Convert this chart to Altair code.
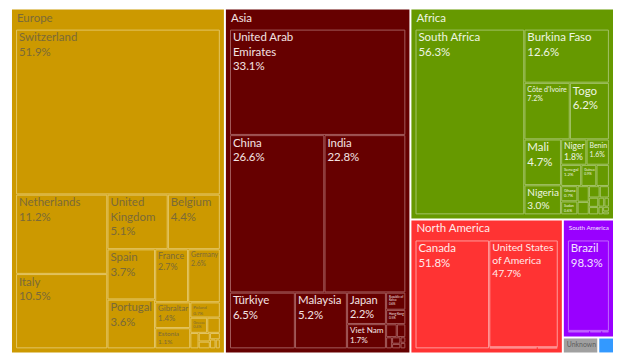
import altair as alt
import pandas as pd

# ---------------- data ----------------
continents = ["Europe", "Asia", "Africa", "North America", "South America", "Unknown", "Oceania"]
continent_share = [35.4, 30.7, 20.6, 9.8, 2.9, 0.27, 0.12]
fill_colors = ["#CC9900", "#660000", "#669900", "#FF3333", "#9900FF", "#A0A0A0", "#3399FF"]
line_colors = ["#E3C563", "#A35A5A", "#A3C266", "#FF9C9C", "#C266FF", "#A0A0A0", "#3399FF"]
text_colors = ["#7A6A38", "#F3E3E3", "#EEF5E2", "#FFEAEA", "#F2E2FF", "#5E5E5E", "#FFFFFF"]

europe_names = ["Switzerland", "Netherlands", "Italy", "United Kingdom", "Belgium", "Spain",
                "Portugal", "France", "Germany", "Gibraltar", "Estonia", "Poland", "Greece",
                "Czechia", "Austria", "Sweden", "Denmark", "Ireland", "Lithuania", "Finland"]
europe_pct = [51.9, 11.2, 10.5, 5.1, 4.4, 3.7, 3.6, 2.7, 2.6, 1.4, 1.1, 0.7, 0.4,
              0.3, 0.2, 0.15, 0.12, 0.1, 0.08, 0.06]

asia_names = ["United Arab Emirates", "China", "India", "Türkiye", "Malaysia", "Japan",
              "Viet Nam", "Republic of Korea", "Hong Kong", "Singapore", "Thailand",
              "Saudi Arabia", "Israel", "Kazakhstan", "Philippines", "Indonesia"]
asia_pct = [33.1, 26.6, 22.8, 6.5, 5.2, 2.2, 1.7, 0.6, 0.5, 0.25, 0.2, 0.12, 0.1, 0.07, 0.05, 0.05]

africa_names = ["South Africa", "Burkina Faso", "Côte d'Ivoire", "Togo", "Mali", "Nigeria",
                "Niger", "Benin", "Senegal", "Guinea", "Liberia", "Ghana", "Sudan", "Tanzania",
                "Egypt", "Zimbabwe", "Kenya", "Cameroon", "Morocco", "Uganda", "Ethiopia",
                "Rwanda", "Zambia", "Madagascar"]
africa_pct = [56.3, 12.6, 7.2, 6.2, 4.7, 3.0, 1.8, 1.6, 1.2, 0.9, 0.75, 0.7, 0.6, 0.5,
              0.4, 0.35, 0.3, 0.25, 0.2, 0.15, 0.12, 0.1, 0.08, 0.05]

north_america_names = ["Canada", "United States of America", "Mexico", "Panama"]
north_america_pct = [51.8, 47.7, 0.35, 0.15]

south_america_names = ["Brazil", "Peru", "Colombia", "Chile"]
south_america_pct = [98.3, 0.9, 0.5, 0.3]

children = {
    "Europe": (europe_names, europe_pct),
    "Asia": (asia_names, asia_pct),
    "Africa": (africa_names, africa_pct),
    "North America": (north_america_names, north_america_pct),
    "South America": (south_america_names, south_america_pct),
}

# ---------------- squarified layout ----------------
W, H = 605, 346
PAD_L, PAD_R, PAD_T, PAD_B = 4, 4, 20, 4
FONT = "Lato"


def text_em(s):
    """Approximate width of a string in em for Lato."""
    w = 0.0
    for c in s:
        if c in "il.,'|!":
            w += 0.25
        elif c == " ":
            w += 0.26
        elif c in "frtjI":
            w += 0.36
        elif c in "mw":
            w += 0.8
        elif c in "MW":
            w += 0.9
        elif c == "%":
            w += 0.8
        elif c.isdigit():
            w += 0.58
        elif c.isupper():
            w += 0.68
        else:
            w += 0.53
    return w


def _layout(sizes, x, y, dx, dy):
    covered = sum(sizes)
    rects = []
    if dx >= dy:
        width = covered / dy if dy > 0 else 0
        for s in sizes:
            h = s / width if width > 0 else 0
            rects.append((x, y, width, h))
            y += h
    else:
        height = covered / dx if dx > 0 else 0
        for s in sizes:
            w = s / height if height > 0 else 0
            rects.append((x, y, w, height))
            x += w
    return rects


def _leftover(sizes, x, y, dx, dy):
    covered = sum(sizes)
    if dx >= dy:
        width = covered / dy if dy > 0 else 0
        return x + width, y, dx - width, dy
    height = covered / dx if dx > 0 else 0
    return x, y + height, dx, dy - height


def _worst(sizes, x, y, dx, dy):
    r = 0
    for (_, _, w, h) in _layout(sizes, x, y, dx, dy):
        if w <= 0 or h <= 0:
            return float("inf")
        r = max(r, w / h, h / w)
    return r


def squarify(sizes, x, y, dx, dy):
    sizes = list(sizes)
    if not sizes:
        return []
    if len(sizes) == 1:
        return _layout(sizes, x, y, dx, dy)
    i = 1
    while i < len(sizes) and _worst(sizes[:i], x, y, dx, dy) >= _worst(sizes[:i + 1], x, y, dx, dy):
        i += 1
    cur, rest = sizes[:i], sizes[i:]
    lx, ly, ldx, ldy = _leftover(cur, x, y, dx, dy)
    return _layout(cur, x, y, dx, dy) + squarify(rest, lx, ly, ldx, ldy)


def norm(vals, dx, dy):
    t = sum(vals)
    return [v * dx * dy / t for v in vals]


def wrap(name, maxc=13):
    words = name.split(" ")
    lines, cur = [], ""
    for w in words:
        cand = (cur + " " + w).strip()
        if len(cand) <= maxc or not cur:
            cur = cand
        else:
            lines.append(cur)
            cur = w
    lines.append(cur)
    return lines


rect_rows = []
text_rows = []

top = squarify(norm(continent_share, W, H), 0, 0, W, H)
for ci, (cx, cy, cw, ch) in enumerate(top):
    cname = continents[ci]
    x0, y0, x1, y1 = cx + 1, cy + 1, cx + cw - 1, cy + ch - 1
    rect_rows.append(dict(x=x0, x2=x1, y=y0, y2=y1, fill=fill_colors[ci],
                          stroke=fill_colors[ci], kind="continent"))
    tcol = text_colors[ci]
    if cname in children:
        fs = min(11.5, (x1 - x0 - 8) / text_em(cname))
        text_rows.append(dict(x=x0 + 5, y=y0 + 3 + (11.5 - fs) * 0.4, text=cname, fs=fs, color=tcol))
        names, pct = children[cname]
        ix0, iy0 = x0 + PAD_L, y0 + PAD_T
        iw, ih = (x1 - PAD_R) - ix0, (y1 - PAD_B) - iy0
        kids = squarify(norm(pct, iw, ih), ix0, iy0, iw, ih)
        for ki, (kx, ky, kw, kh) in enumerate(kids):
            rect_rows.append(dict(x=kx + 0.6, x2=kx + kw - 0.6, y=ky + 0.6, y2=ky + kh - 0.6,
                                  fill=fill_colors[ci], stroke=line_colors[ci], kind="child"))
            lines = wrap(names[ki]) + [f"{pct[ki]:.1f}%"]
            longest = max(text_em(s) for s in lines)
            fs = min(11.5, (kw - 5) / longest, (kh - 4) / (len(lines) * 1.25))
            if fs >= 2.5:
                for li, s in enumerate(lines):
                    text_rows.append(dict(x=kx + 3, y=ky + 3 + li * fs * 1.25, text=s, fs=fs, color=tcol))
    else:
        fs = min(11.5, (x1 - x0 - 5) / text_em(cname), (y1 - y0 - 4) / 1.25)
        if fs >= 3:
            text_rows.append(dict(x=x0 + 3, y=y0 + 3, text=cname, fs=fs, color=tcol))

rects = pd.DataFrame(rect_rows)
texts = pd.DataFrame(text_rows)

xs = alt.Scale(domain=[0, W], nice=False, zero=False)
ys = alt.Scale(domain=[0, H], nice=False, zero=False, reverse=True)

cont = alt.Chart(rects).transform_filter(alt.datum.kind == "continent").mark_rect(strokeWidth=0).encode(
    x=alt.X("x:Q", scale=xs, axis=None),
    x2="x2:Q",
    y=alt.Y("y:Q", scale=ys, axis=None),
    y2="y2:Q",
    fill=alt.Color("fill:N", scale=None),
)

kid = alt.Chart(rects).transform_filter(alt.datum.kind == "child").mark_rect(strokeWidth=1).encode(
    x=alt.X("x:Q", scale=xs, axis=None),
    x2="x2:Q",
    y=alt.Y("y:Q", scale=ys, axis=None),
    y2="y2:Q",
    fill=alt.Color("fill:N", scale=None),
    stroke=alt.Stroke("stroke:N", scale=None),
)

labels = alt.Chart(texts).mark_text(align="left", baseline="top", font=FONT).encode(
    x=alt.X("x:Q", scale=xs, axis=None),
    y=alt.Y("y:Q", scale=ys, axis=None),
    text="text:N",
    size=alt.Size("fs:Q", scale=None),
    color=alt.Color("color:N", scale=None),
)

chart = alt.layer(cont, kid, labels).properties(
    width=W, height=H,
    padding={"left": 3, "top": 0, "right": 0, "bottom": 0},
    background="white",
).configure_view(stroke=None)

chart.save("out.html", embed_options={"renderer": "svg", "actions": False})
